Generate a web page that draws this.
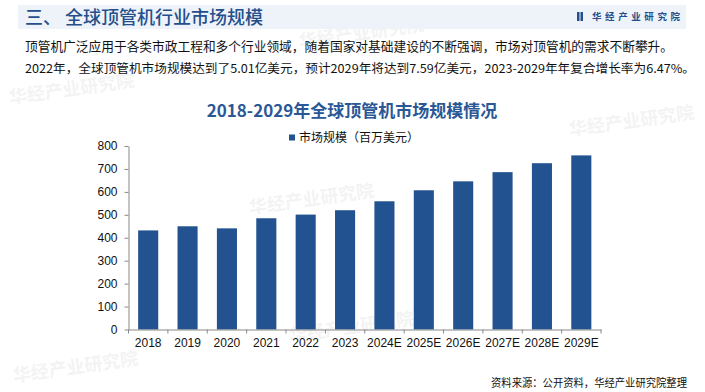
<!DOCTYPE html>
<html>
<head>
<meta charset="utf-8">
<script src="https://cdn.jsdelivr.net/npm/d3@7"></script>
<style>
  body { margin: 0; background: #fff; }
  svg { display: block; }
</style>
</head>
<body>
<div id="chart"></div>
<script>
// data
const years = ['2018', '2019', '2020', '2021', '2022', '2023', '2024E', '2025E', '2026E', '2027E', '2028E', '2029E']
const values = [432, 450, 441, 485, 501, 520, 559, 607, 646, 686, 725, 759]
const yTicks = [0, 100, 200, 300, 400, 500, 600, 700, 800]
const seriesName = '市场规模（百万美元）'

const W = 705
const H = 392
const cjk = "'Noto Sans CJK SC', 'Noto Sans', sans-serif"
const latin = "'Liberation Sans', Arial, sans-serif"
const blue = '#22528f'

const svg = d3
  .select('#chart')
  .append('svg')
  .attr('width', W)
  .attr('height', H)

// faint watermarks
const marks = [[10, 104], [250, 214], [300, 48], [570, 136], [290, 342], [14, 382]]
marks.forEach(function(m) {
  const g = svg.append('g').attr('transform', 'translate(' + m[0] + ',' + m[1] + ') rotate(-8)')
  g.append('text')
    .text('华经产业研究院')
    .attr('font-family', cjk)
    .attr('font-weight', 'bold')
    .attr('font-size', 18)
    .attr('fill', '#000')
    .attr('opacity', 0.045)
})

// header band
svg.append('rect')
  .attr('x', 18).attr('y', 5)
  .attr('width', 668).attr('height', 24)
  .attr('fill', '#eef3fa')

svg.append('text')
  .text('三、 全球顶管机行业市场规模')
  .attr('x', 25).attr('y', 24)
  .attr('font-family', cjk)
  .attr('font-size', 18)
  .attr('font-weight', 500)
  .attr('fill', '#254f8c')

svg.append('rect')
  .attr('x', 577).attr('y', 12)
  .attr('width', 2.5).attr('height', 9)
  .attr('fill', '#254f8c')
svg.append('rect')
  .attr('x', 580.5).attr('y', 12)
  .attr('width', 2.5).attr('height', 9)
  .attr('fill', '#254f8c')

svg.append('text')
  .text('华经产业研究院')
  .attr('x', 592).attr('y', 20)
  .attr('font-family', cjk)
  .attr('font-size', 9.5)
  .attr('font-weight', 'bold')
  .attr('fill', '#254f8c')
  .attr('textLength', 88)

// paragraph
svg.append('text')
  .text('顶管机广泛应用于各类市政工程和多个行业领域，随着国家对基础建设的不断强调，市场对顶管机的需求不断攀升。')
  .attr('x', 25).attr('y', 51)
  .attr('font-family', cjk)
  .attr('font-size', 12.6)
  .attr('fill', '#111')
  .attr('textLength', 648)
  .attr('lengthAdjust', 'spacingAndGlyphs')

svg.append('text')
  .text('2022年，全球顶管机市场规模达到了5.01亿美元，预计2029年将达到7.59亿美元，2023-2029年年复合增长率为6.47%。')
  .attr('x', 25).attr('y', 73)
  .attr('font-family', cjk)
  .attr('font-size', 12)
  .attr('fill', '#111')
  .attr('textLength', 670)
  .attr('lengthAdjust', 'spacingAndGlyphs')

// chart title
svg.append('text')
  .text('2018-2029年全球顶管机市场规模情况')
  .attr('x', 352).attr('y', 117)
  .attr('text-anchor', 'middle')
  .attr('font-family', cjk)
  .attr('font-size', 17)
  .attr('font-weight', 'bold')
  .attr('fill', '#2a5896')

// legend
svg.append('rect')
  .attr('x', 289).attr('y', 134.5)
  .attr('width', 6).attr('height', 6)
  .attr('fill', blue)
svg.append('text')
  .text(seriesName)
  .attr('x', 299).attr('y', 142)
  .attr('font-family', cjk)
  .attr('font-size', 12)
  .attr('fill', '#111')

// scales
const xPositionScale = d3
  .scaleBand()
  .domain(years)
  .range([128.5, 601])
  .paddingInner(0.49)
  .paddingOuter(0.245)

const yPositionScale = d3
  .scaleLinear()
  .domain([0, 800])
  .range([329.5, 146])

// bars
svg
  .selectAll('.bar')
  .data(values)
  .enter()
  .append('rect')
  .attr('class', 'bar')
  .attr('x', function(d, i) {
    return xPositionScale(years[i])
  })
  .attr('width', xPositionScale.bandwidth())
  .attr('y', function(d) {
    return yPositionScale(d)
  })
  .attr('height', function(d) {
    return yPositionScale(0) - yPositionScale(d)
  })
  .attr('fill', blue)

// y axis
const y_axis = d3
  .axisLeft(yPositionScale)
  .tickValues(yTicks)
  .tickSize(4)
  .tickPadding(7)
  .tickSizeOuter(0)

svg
  .append('g')
  .attr('class', 'axis y-axis')
  .attr('transform', 'translate(128.5,0)')
  .call(y_axis)

// x axis, labels centred, ticks on the band boundaries
const x_axis = d3
  .axisBottom(xPositionScale)
  .tickSize(0)
  .tickPadding(9)
  .tickSizeOuter(0)

svg
  .append('g')
  .attr('class', 'axis x-axis')
  .attr('transform', 'translate(0,' + yPositionScale(0) + ')')
  .call(x_axis)

const step = xPositionScale.step()
const bounds = years.map(function(d) {
  return xPositionScale(d) - step * 0.245
})
bounds.push(601)
svg
  .append('g')
  .selectAll('line')
  .data(bounds)
  .enter()
  .append('line')
  .attr('x1', function(d) { return d })
  .attr('x2', function(d) { return d })
  .attr('y1', yPositionScale(0))
  .attr('y2', yPositionScale(0) + 4)
  .attr('stroke', '#898989')

svg.selectAll('.axis path').attr('stroke', '#898989')
svg.selectAll('.axis line').attr('stroke', '#898989')
svg.selectAll('.axis text')
  .attr('font-family', latin)
  .attr('font-size', 12)
  .attr('fill', '#111')

// source
svg.append('text')
  .text('资料来源：公开资料，华经产业研究院整理')
  .attr('x', 491).attr('y', 387)
  .attr('font-family', cjk)
  .attr('font-size', 11)
  .attr('fill', '#111')
  .attr('textLength', 196)
  .attr('lengthAdjust', 'spacingAndGlyphs')
</script>
</body>
</html>
